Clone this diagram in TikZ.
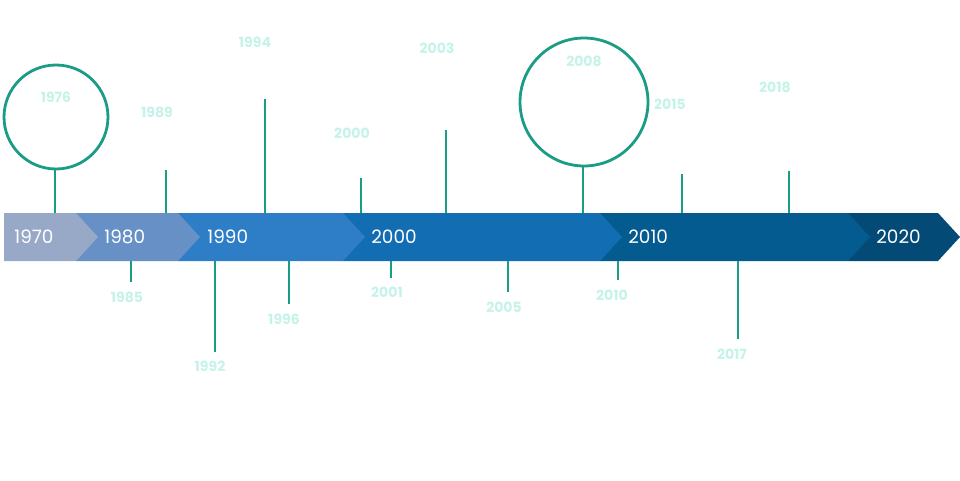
\documentclass[tikz,border=0pt]{standalone}
\usepackage{fontspec}
\setmainfont{Poppins}
\usetikzlibrary{positioning}
\definecolor{segA}{RGB}{151,169,199}
\definecolor{segB}{RGB}{103,145,198}
\definecolor{segC}{RGB}{46,125,199}
\definecolor{segD}{RGB}{19,109,178}
\definecolor{segE}{RGB}{3,91,144}
\definecolor{segF}{RGB}{3,74,119}
\definecolor{pinteal}{RGB}{26,156,133}
\definecolor{yearmint}{RGB}{198,243,233}

\begin{document}
\begin{tikzpicture}[
  x=0.02cm,
  y=-0.02cm,
  pin/.style={
    draw=pinteal,
    line width=1.6pt
  },
  pin circle/.style={
    pin,
    circle,
    inner sep=0pt,
    fill=none
  },
  bar label/.style={
    anchor=west,
    text=white,
    font=\fontsize{10.5}{12}\selectfont,
    inner sep=0pt
  },
  year label/.style={
    text=yearmint,
    font=\fontsize{8}{9}\selectfont\bfseries,
    inner sep=0pt
  }
]

\def\bartop{213}
\def\barbottom{261}
\def\barmid{237}
\def\tiplen{22}

\useasboundingbox (0,0) rectangle (960,480);

% Bar segments, drawn right to left so that each tip lies on the next one.
\foreach \seg/\xa/\xb/\segcol in {
  2020/848/938/segF,
  2010/600/848/segE,
  2000/343/600/segD,
  1990/178/343/segC,
  1980/76/178/segB,
  1970/4/76/segA}{
  \fill[fill=\segcol] (\xa,\bartop) -- (\xb,\bartop) -- (\xb+\tiplen,\barmid)
    -- (\xb,\barbottom) -- (\xa,\barbottom) -- cycle;
}

% Decade labels on the bar.
\foreach \seg/\lx in {1970/14,1980/104,1990/207,2000/371,2010/628,2020/876}{
  \node[bar label] (seg\seg) at (\lx,\barmid) {\seg};
}

% Pins above the bar.
\foreach \yr/\px/\ptop/\lx/\ly in {
  1989/166/170/157/112,
  1994/265/99/255/42,
  2000/361/178/352/133,
  2003/446/130/437/48,
  2015/682/174/670/104,
  2018/789/171/775/87
}{
  \coordinate (pinup\yr-base) at (\px,\bartop);
  \coordinate (pinup\yr-end) at (\px,\ptop);
  \draw[pin] (pinup\yr-base) -- (pinup\yr-end);
  \node[year label] (yearup\yr) at (\lx,\ly) {\yr};
}

% Pins below the bar.
\foreach \yr/\px/\pend/\lx/\ly in {
  1985/131/282/127/297,
  1992/215/352/210/366,
  1996/289/304/284/319,
  2001/391/278/387/292,
  2005/508/292/504/307,
  2010/618/280/612/295,
  2017/738/339/732/354
}{
  \coordinate (pindown\yr-base) at (\px,\barbottom);
  \coordinate (pindown\yr-end) at (\px,\pend);
  \draw[pin] (pindown\yr-base) -- (pindown\yr-end);
  \node[year label] (yeardown\yr) at (\lx,\ly) {\yr};
}

% Pins ending in a circle.
\node[pin circle, minimum size=2.08cm] (ring1976) at (56,117) {};
\coordinate (pinup1976-base) at (55,\bartop);
\draw[pin] (pinup1976-base) -- (pinup1976-base |- ring1976.south);
\node[year label] (yearup1976) at (56,97) {1976};

\node[pin circle, minimum size=2.56cm] (ring2008) at (584,102) {};
\coordinate (pinup2008-base) at (583,\bartop);
\draw[pin] (pinup2008-base) -- (pinup2008-base |- ring2008.south);
\node[year label] (yearup2008) at (584,61) {2008};

\end{tikzpicture}
\end{document}
